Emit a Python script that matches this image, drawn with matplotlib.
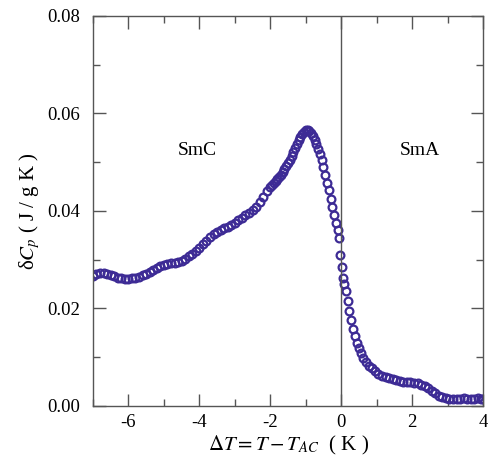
import matplotlib
matplotlib.use('Agg')
import matplotlib.pyplot as plt
from matplotlib.ticker import MultipleLocator

plt.rcParams['font.family'] = ['Liberation Serif', 'DejaVu Serif']
plt.rcParams['mathtext.fontset'] = 'stix'
plt.rcParams['axes.unicode_minus'] = False

# temperature offset from T_AC (K)
dT = [-7.0, -6.9, -6.8, -6.7, -6.6, -6.5, -6.4, -6.3, -6.2, -6.1,
      -6.0, -5.9, -5.8, -5.7, -5.6, -5.5, -5.4, -5.3, -5.2, -5.1,
      -5.0, -4.9, -4.8, -4.7, -4.6, -4.5, -4.4, -4.3, -4.2, -4.1,
      -4.0, -3.9, -3.8, -3.7, -3.6, -3.5, -3.4, -3.3, -3.2, -3.1,
      -3.0, -2.9, -2.8, -2.7, -2.6, -2.5, -2.4, -2.3, -2.2, -2.1,
      -2.0, -1.95, -1.9, -1.85, -1.8, -1.75, -1.7, -1.65, -1.6, -1.55,
      -1.5, -1.45, -1.4, -1.35, -1.3, -1.25, -1.2, -1.15, -1.1, -1.05,
      -1.0, -0.95, -0.9, -0.85, -0.8, -0.75, -0.7, -0.65, -0.6, -0.55,
      -0.5, -0.45, -0.4, -0.35, -0.3, -0.25, -0.2, -0.15, -0.1, -0.07,
      -0.04, 0.01, 0.04, 0.08, 0.13, 0.18, 0.23, 0.28, 0.33, 0.38,
      0.44, 0.50, 0.56, 0.62, 0.70, 0.78, 0.86, 0.95, 1.05, 1.15,
      1.25, 1.35, 1.45, 1.55, 1.65, 1.75, 1.85, 1.95, 2.05, 2.15,
      2.25, 2.35, 2.45, 2.55, 2.65, 2.75, 2.85, 2.95, 3.05, 3.15,
      3.25, 3.35, 3.45, 3.55, 3.65, 3.75, 3.85, 3.95, 4.0]

# excess heat capacity (J / g K)
dCp = [0.0266, 0.0270, 0.0273, 0.0273, 0.0271, 0.0268, 0.0266, 0.0263, 0.0262, 0.0261,
       0.0261, 0.0262, 0.0263, 0.0265, 0.0268, 0.0271, 0.0274, 0.0279, 0.0283, 0.0287,
       0.0290, 0.0292, 0.0293, 0.0294, 0.0295, 0.0298, 0.0302, 0.0307, 0.0312, 0.0318,
       0.0325, 0.0332, 0.0339, 0.0346, 0.0352, 0.0357, 0.0361, 0.0365, 0.0368, 0.0372,
       0.0376, 0.0381, 0.0386, 0.0391, 0.0396, 0.0402, 0.0409, 0.0418, 0.0428, 0.0440,
       0.0450, 0.0454, 0.0458, 0.0461, 0.0465, 0.0469, 0.0474, 0.0480, 0.0486, 0.0492,
       0.0498, 0.0505, 0.0513, 0.0521, 0.0530, 0.0538, 0.0546, 0.0552, 0.0558, 0.0562,
       0.0565, 0.0567, 0.0564, 0.0560, 0.0553, 0.0545, 0.0538, 0.0528, 0.0517, 0.0505,
       0.0490, 0.0474, 0.0458, 0.0442, 0.0425, 0.0408, 0.0392, 0.0375, 0.0360, 0.0345,
       0.0310, 0.0285, 0.0263, 0.0250, 0.0235, 0.0215, 0.0195, 0.0176, 0.0158, 0.0144,
       0.0130, 0.0118, 0.0108, 0.0099, 0.0090, 0.0083, 0.0077, 0.0071, 0.0066, 0.0062,
       0.0059, 0.0057, 0.0055, 0.0053, 0.0052, 0.0050, 0.0049, 0.0049, 0.0048, 0.0047,
       0.0044, 0.0040, 0.0036, 0.0031, 0.0026, 0.0021, 0.0018, 0.0016, 0.0015, 0.0015,
       0.0014, 0.0015, 0.0016, 0.0015, 0.0014, 0.0015, 0.0016, 0.0015, 0.0015]

xticks = [-6, -4, -2, 0, 2, 4]
yticks = [0.00, 0.02, 0.04, 0.06, 0.08]

fig = plt.figure(figsize=(4.89, 4.68), dpi=100)
ax = fig.add_axes([0.190, 0.1325, 0.798, 0.8335])

ax.plot(dT, dCp, 'o', mfc='none', mec='#3d2b95', mew=1.6, ms=5.6, ls='none')
ax.axvline(0, color='#555555', lw=1.0)

ax.set_xlim(-7, 4)
ax.set_ylim(0, 0.08)
ax.set_xticks(xticks)
ax.set_yticks(yticks)
ax.set_yticklabels(['%.2f' % v for v in yticks])
ax.xaxis.set_minor_locator(MultipleLocator(1))
ax.yaxis.set_minor_locator(MultipleLocator(0.01))
ax.tick_params(which='both', direction='in', top=True, right=True,
               color='#555555', width=1.0, labelsize=13.5)
ax.tick_params(which='major', length=9)
ax.tick_params(which='minor', length=5)
ax.tick_params(axis='y', pad=9)
ax.tick_params(axis='x', pad=6)
for s in ax.spines.values():
    s.set_color('#555555')
    s.set_linewidth(1.0)

ax.text(-4.07, 0.0523, 'SmC', fontsize=14, ha='center', va='center')
ax.text(2.22, 0.0525, 'SmA', fontsize=14, ha='center', va='center')

ax.set_xlabel(r'$\Delta T = T - T_{AC}$  ( K )', fontsize=15, labelpad=2)
ax.set_ylabel(r'δ$C_{p}$ ( J / g K )', fontsize=15, labelpad=4)

fig.savefig('out.png', dpi=100)
